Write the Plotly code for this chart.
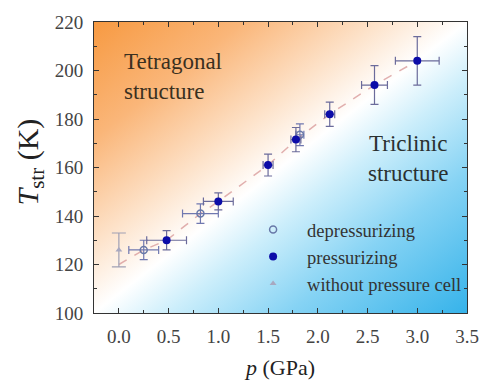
import base64
import plotly.graph_objects as go

# ---- data ----
p_press = [0.48, 1.0, 1.5, 1.78, 2.12, 2.57, 3.0]
T_press = [130, 146, 161, 171.5, 182, 194, 204]
T_press_err = [4, 3.5, 4.5, 5, 5, 8, 10]
p_press_err = [0.2, 0.15, 0.05, 0.05, 0.05, 0.13, 0.22]

p_depress = [0.25, 0.82, 1.82]
T_depress = [126, 141, 173.5]
T_depress_err = [4, 4, 4.5]
p_depress_err = [0.15, 0.18, 0.04]

p_nocell = [0.0]
T_nocell = [126]
T_nocell_err = [7]

guide_p = [0.0, 0.25, 0.48, 0.82, 1.0, 1.5, 1.8, 2.12, 2.57, 3.0]
guide_T = [120, 126, 130, 141, 146, 161, 172, 182, 194, 204]

x_ticks = [0.0, 0.5, 1.0, 1.5, 2.0, 2.5, 3.0, 3.5]
y_ticks = [100, 120, 140, 160, 180, 200, 220]

SERIF = "Liberation Serif"

fig = go.Figure()

# background gradient
svg = ('<svg xmlns="http://www.w3.org/2000/svg" width="383" height="296" viewBox="0 0 383 296" '
       'preserveAspectRatio="none"><defs><linearGradient id="g" x1="0" y1="0" x2="1" y2="1">'
       '<stop offset="0" stop-color="#F79A42"/>'
       '<stop offset="0.2" stop-color="#FAB679"/>'
       '<stop offset="0.38" stop-color="#FDE2C9"/>'
       '<stop offset="0.5" stop-color="#FFFFFF"/>'
       '<stop offset="0.6" stop-color="#CCEEFB"/>'
       '<stop offset="0.76" stop-color="#86D3F4"/>'
       '<stop offset="1" stop-color="#36B3EA"/>'
       '</linearGradient></defs><rect width="383" height="296" fill="url(#g)"/></svg>')
src = "data:image/svg+xml;base64," + base64.b64encode(svg.encode()).decode()
fig.add_layout_image(dict(source=src, xref="paper", yref="paper", x=0, y=1,
                          sizex=1, sizey=1, sizing="stretch", layer="below"))

fig.add_trace(go.Scatter(x=guide_p, y=guide_T, mode="lines",
                         line=dict(color="rgba(215,150,150,0.75)", width=1.5, dash="dash"),
                         showlegend=False, hoverinfo="skip"))

fig.add_trace(go.Scatter(
    x=p_depress, y=T_depress, mode="markers", name="depressurizing",
    marker=dict(symbol="circle-open", size=7, color="#6878A8", line=dict(width=1.5)),
    error_y=dict(type="data", array=T_depress_err, color="#7078B0", thickness=1.2, width=4),
    error_x=dict(type="data", array=p_depress_err, color="#7078B0", thickness=1.2, width=4),
))

fig.add_trace(go.Scatter(
    x=p_press, y=T_press, mode="markers", name="pressurizing",
    marker=dict(symbol="circle", size=8, color="#0C0CA8"),
    error_y=dict(type="data", array=T_press_err, color="#6B6B9B", thickness=1.2, width=4),
    error_x=dict(type="data", array=p_press_err, color="#6B6B9B", thickness=1.2, width=4),
))

fig.add_trace(go.Scatter(
    x=p_nocell, y=T_nocell, mode="markers", name="without pressure cell",
    marker=dict(symbol="triangle-up", size=6, color="#A8A8C0"),
    error_y=dict(type="data", array=T_nocell_err, color="#A0A0B4", thickness=1.2, width=7),
))

fig.add_annotation(x=0.076, y=0.814, xref="paper", yref="paper", xanchor="left", yanchor="middle",
                   text="Tetragonal<br>structure", showarrow=False, align="left",
                   font=dict(family=SERIF, size=23, color="#3A3020"))
fig.add_annotation(x=0.841, y=0.53, xref="paper", yref="paper", xanchor="center", yanchor="middle",
                   text="Triclinic<br>structure", showarrow=False, align="center",
                   font=dict(family=SERIF, size=23, color="#2A3030"))
# y-axis title
fig.add_annotation(x=-0.172, y=0.52, xref="paper", yref="paper", xanchor="center", yanchor="middle",
                   text="<i>T</i><sub>str</sub> (K)", textangle=-90, showarrow=False,
                   font=dict(family=SERIF, size=30, color="#222222"))

axis_common = dict(showline=True, linecolor="#333333", linewidth=1, mirror="ticks",
                   ticks="inside", ticklen=5, tickcolor="#333333", showgrid=False, zeroline=False,
                   tickfont=dict(family=SERIF, size=19, color="#444444"))

fig.update_xaxes(range=[-0.25, 3.5], tickvals=x_ticks, ticktext=[f"{v:.1f}" for v in x_ticks],
                 minor=dict(tickvals=[-0.25 + 0.25 * i for i in range(16)], ticks="inside",
                            ticklen=3, tickcolor="#333333"),
                 title=dict(text="<i>p</i> (GPa)", font=dict(family=SERIF, size=22, color="#222222"),
                            standoff=13),
                 ticklabelstandoff=6, **axis_common)
fig.update_yaxes(range=[100, 220], tickvals=y_ticks, ticktext=[str(v) for v in y_ticks],
                 minor=dict(tickvals=list(range(100, 221, 10)), ticks="inside",
                            ticklen=3, tickcolor="#333333"),
                 ticklabelstandoff=6, **axis_common)

fig.update_layout(
    width=491, height=387,
    margin=dict(l=94, r=14, t=18, b=73),
    paper_bgcolor="white", plot_bgcolor="white",
    font=dict(family=SERIF),
    legend=dict(x=0.389, y=0.351, xanchor="left", yanchor="top", bgcolor="rgba(0,0,0,0)",
                font=dict(family=SERIF, size=18.5, color="#333333"),
                itemwidth=58, tracegroupgap=0),
)

fig.write_html("out.html", config={"displayModeBar": False},
               post_script="document.body.style.margin='0';")
